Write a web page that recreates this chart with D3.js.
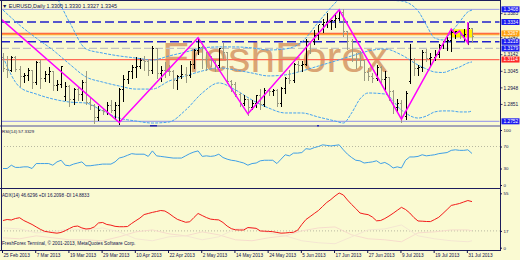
<!DOCTYPE html>
<html>
<head>
<meta charset="utf-8">
<script src="https://cdn.jsdelivr.net/npm/d3@7"></script>
<style>
  body { margin: 0; background: #fafad2; }
  svg { display: block; font-family: "Liberation Sans", Arial, sans-serif; }
</style>
</head>
<body>
<div id="chart"></div>
<script>
// EURUSD daily bars, 25 Feb 2013 .. 1 Aug 2013
var opens = [1.3130,1.3060,1.3055,1.3130,1.3060,1.3020,1.3025,1.3050,1.2985,1.3100,
  1.3005,1.3030,1.3045,1.2965,1.2970,1.2900,1.2960,1.2880,1.2940,1.2910,
  1.2985,1.2865,1.2850,1.2775,1.2820,1.2815,1.2845,1.2820,1.2850,1.2940,
  1.3000,1.3045,1.3070,1.3075,1.3110,1.3105,1.3050,1.3180,1.3035,1.3050,
  1.3048,1.3045,1.2995,1.3020,1.3030,1.3025,1.3090,1.3170,1.3190,1.3120,
  1.3115,1.3110,1.3080,1.3180,1.3160,1.2990,1.2970,1.2915,1.2860,1.2885,
  1.2835,1.2860,1.2905,1.2855,1.2935,1.2930,1.2935,1.2860,1.2945,1.3005,
  1.2995,1.3085,1.3080,1.3090,1.3225,1.3220,1.3260,1.3320,1.3335,1.3340,
  1.3345,1.3360,1.3395,1.3280,1.3220,1.3120,1.3115,1.3110,1.3040,1.3015,
  1.3005,1.3070,1.3000,1.3010,1.2930,1.2835,1.2860,1.2785,1.2990,1.3120,
  1.3065,1.3070,1.3160,1.3125,1.3130,1.3145,1.3200,1.3220,1.3230,1.3275,
  1.3280,1.3260,1.3265,1.3300];
var highs = [1.3160,1.3140,1.3140,1.3140,1.3080,1.3040,1.3070,1.3060,1.3110,1.3120,
  1.3050,1.3075,1.3055,1.3000,1.3080,1.2990,1.2970,1.2955,1.2960,1.3000,
  1.3050,1.2900,1.2860,1.2850,1.2830,1.2870,1.2885,1.2870,1.2955,1.3030,
  1.3055,1.3085,1.3135,1.3130,1.3140,1.3120,1.3200,1.3190,1.3080,1.3105,
  1.3090,1.3060,1.3030,1.3090,1.3075,1.3110,1.3180,1.3242,1.3200,1.3165,
  1.3140,1.3120,1.3190,1.3215,1.3165,1.3000,1.2990,1.2925,1.2915,1.2890,
  1.2880,1.2915,1.2950,1.2955,1.2955,1.2945,1.2950,1.2960,1.3020,1.3060,
  1.3100,1.3110,1.3110,1.3240,1.3230,1.3295,1.3325,1.3360,1.3390,1.3350,
  1.3390,1.3405,1.3416,1.3290,1.3240,1.3160,1.3170,1.3115,1.3070,1.3040,
  1.3090,1.3080,1.3050,1.3020,1.2940,1.2890,1.2880,1.2935,1.3208,1.3130,
  1.3090,1.3175,1.3180,1.3160,1.3175,1.3210,1.3230,1.3250,1.3295,1.3290,
  1.3285,1.3300,1.3335,1.3300];
var lows = [1.3050,1.3020,1.3050,1.3050,1.2965,1.2990,1.3000,1.2955,1.2975,1.2955,
  1.2995,1.2990,1.2940,1.2940,1.2960,1.2880,1.2845,1.2860,1.2880,1.2885,
  1.2860,1.2830,1.2750,1.2765,1.2800,1.2800,1.2810,1.2780,1.2745,1.2875,
  1.2985,1.3010,1.3020,1.3070,1.3060,1.3030,1.3040,1.3010,1.2995,1.3020,
  1.3030,1.2955,1.2950,1.3010,1.2990,1.3020,1.3070,1.3150,1.3070,1.3060,
  1.3080,1.3050,1.3075,1.3130,1.2985,1.2935,1.2905,1.2845,1.2855,1.2796,
  1.2830,1.2840,1.2830,1.2845,1.2910,1.2915,1.2850,1.2845,1.2925,1.2985,
  1.2990,1.3050,1.3050,1.3085,1.3160,1.3210,1.3240,1.3280,1.3310,1.3300,
  1.3310,1.3350,1.3260,1.3180,1.3110,1.3070,1.3080,1.3000,1.3000,1.2990,
  1.3000,1.2990,1.2945,1.2880,1.2805,1.2810,1.2755,1.2770,1.2980,1.3030,
  1.3030,1.3055,1.3110,1.3080,1.3120,1.3135,1.3185,1.3175,1.3170,1.3245,
  1.3245,1.3235,1.3211,1.3220];
var closes = [1.3065,1.3055,1.3130,1.3060,1.3020,1.3025,1.3050,1.2985,1.3100,1.3005,
  1.3030,1.3045,1.2965,1.2970,1.3075,1.2960,1.2880,1.2940,1.2910,1.2985,
  1.2865,1.2850,1.2775,1.2820,1.2815,1.2845,1.2820,1.2850,1.2940,1.3000,
  1.3045,1.3070,1.3075,1.3110,1.3105,1.3050,1.3180,1.3035,1.3050,1.3048,
  1.3045,1.2995,1.3020,1.3030,1.3025,1.3090,1.3170,1.3190,1.3120,1.3115,
  1.3110,1.3080,1.3180,1.3160,1.2990,1.2970,1.2915,1.2860,1.2885,1.2835,
  1.2860,1.2905,1.2855,1.2935,1.2930,1.2935,1.2860,1.2945,1.3005,1.2995,
  1.3085,1.3080,1.3090,1.3225,1.3220,1.3260,1.3320,1.3335,1.3340,1.3345,
  1.3360,1.3395,1.3280,1.3220,1.3120,1.3115,1.3110,1.3040,1.3015,1.3005,
  1.3070,1.3000,1.3010,1.2930,1.2835,1.2860,1.2785,1.2920,1.3120,1.3065,
  1.3070,1.3160,1.3125,1.3130,1.3145,1.3200,1.3220,1.3230,1.3275,1.3280,
  1.3260,1.3265,1.3300,1.3250];

// Bollinger bands (20), read at these bars
var bbIdx = [0,4,8,12,16,20,24,28,32,36,40,44,48,52,56,60,64,68,72,76,80,82,84,86,88,92,96,100,102,104,106,108,110,112,113];
var bbUpper = [1.3680,1.3680,1.3563,1.3510,1.3334,1.3176,1.3152,1.3135,1.3123,1.3111,1.3135,1.3158,1.3182,1.3188,1.3188,1.3182,1.3170,1.3176,1.3217,1.3334,1.3445,1.3492,1.3510,1.3504,1.3486,1.3463,1.3457,1.3399,1.3316,1.3240,1.3229,1.3276,1.3334,1.3393,1.3404];
var bbMiddle = [1.3404,1.3316,1.3240,1.3170,1.3088,1.3012,1.2982,1.2959,1.2941,1.2941,1.2988,1.3018,1.3047,1.3065,1.3053,1.3035,1.3018,1.3024,1.3047,1.3076,1.3105,1.3120,1.3135,1.3150,1.3164,1.3176,1.3141,1.3082,1.3059,1.3041,1.3038,1.3053,1.3070,1.3094,1.3100];
var bbLower = [1.3129,1.2953,1.2912,1.2883,1.2865,1.2859,1.2813,1.2771,1.2754,1.2742,1.2748,1.2818,1.2918,1.2977,1.2936,1.2877,1.2830,1.2801,1.2801,1.2777,1.2754,1.2742,1.2801,1.2883,1.2918,1.2912,1.2818,1.2771,1.2783,1.2807,1.2813,1.2813,1.2807,1.2807,1.2813];

// ZigZag turning points
var zzIdx = [-1, 28, 47, 59, 81, 96, 108, 109, 110, 112, 112];
var zzPrice = [1.3363, 1.2745, 1.3242, 1.2796, 1.3405, 1.2765, 1.3293, 1.3264, 1.3281, 1.3211, 1.3334];

// RSI(14)
var rsi = [30,30,36,32,32,33,33,30,39,39, 39,39,36,42,45,36,35,38,40,42,
  35,35,36,37,38,38,38,42,49,51, 54,57,56,56,56,52,62,53,52,51,
  50,49,49,49,53,57,60,62,52,53, 52,53,56,50,47,45,44,42,40,36,
  39,40,44,45,45,45,39,47,55,53, 58,58,59,66,65,68,70,73,72,71,
  72,73,64,56,50,45,44,40,41,42, 44,39,41,37,31,33,31,45,51,51,
  52,55,53,54,55,57,58,59,63,64, 63,63,64,57.3];

// ADX(14) with +DI / -DI
var adx = [27.5,28.5,28,29.5,30.3,27.5,25.5,23.5,21,18.6,
  16.6,15.9,15.2,14.7,15.4,17.2,19.4,21.4,21.9,20,
  18.9,19.3,21,25,25.5,23.5,22.8,21.6,21.2,21.2,
  21.4,24.5,27.3,30,33.5,34.6,35.7,36.6,37.6,37.1,
  34.6,31.5,28.7,27.2,25.7,26.2,30.5,34.6,32.5,30.5,
  28.9,28.4,28.1,25.5,21.9,19.3,18.1,17.9,17.9,20.4,
  20,19.6,16.9,16.7,16.5,16.2,15.4,14.7,14.9,15.3,
  15.6,17.7,23.5,28.5,31.5,34.6,37.6,41.7,45.7,48.7,
  52.3,55.3,53.3,48.2,43.7,39.6,35.1,34.1,33.4,31,
  27.2,27.5,29.5,32,34.8,37.8,40.8,38.6,35.1,30.5,
  27,26.8,26.5,26.4,28.5,30.8,34.6,38.6,42.7,43.7,
  44.7,46.2,47.7,46.6];
var diIdx = [0,4,8,12,16,20,24,28,32,36,40,44,48,52,56,60,64,68,72,76,80,84,88,92,96,100,104,108,112,113];
var diPlus = [10,9,12,10,8,8,7,11,16,18,14,12,16,13,8,7,10,12,17,20,21,13,9,8,6,15,16,18,18,17];
var diMinus = [20,19,15,16,19,18,20,16,9,7,11,12,8,11,19,20,15,12,7,5,4,11,18,19,23,12,9,7,6,7];

// date axis
var tickIdx = [0, 8, 16, 24, 32, 40, 48, 56, 64, 72, 80, 88, 96, 104, 112];
var tickLabels = ["25 Feb 2013", "7 Mar 2013", "19 Mar 2013", "29 Mar 2013", "10 Apr 2013", "22 Apr 2013",
  "2 May 2013", "14 May 2013", "24 May 2013", "5 Jun 2013", "17 Jun 2013", "27 Jun 2013",
  "9 Jul 2013", "19 Jul 2013", "31 Jul 2013"];

// horizontal levels and price labels
var levelPrices = [1.3408, 1.3334, 1.3267, 1.3261, 1.3242, 1.3218, 1.3179, 1.3114, 1.2752];
var boxPrices = [1.3408, 1.3334, 1.3267, 1.3218, 1.3179, 1.3114, 1.2752];
var gridPrices = [1.3383, 1.3242, 1.3142, 1.3045, 1.2948, 1.2851];
var zoneFrom = 108, zoneTo = 113, zoneTop = 1.3291, zoneBottom = 1.3244;

var navy = "#10104a";

var svg = d3.select("#chart")
    .append("svg")
    .attr("width", 520)
    .attr("height", 260);

svg.append("rect").attr("width", 520).attr("height", 260).attr("fill", "#fafad2");

// scales
var x = d3.scaleLinear().domain([0, 113]).range([3, 472]);
var y = d3.scaleLinear().domain([1.27, 1.34]).range([130.2, 10.73]);
var yR = d3.scaleLinear().domain([0, 100]).range([185, 130]);
var yA = d3.scaleLinear().domain([0, 55]).range([247.7, 193.3]);
var px = function (i) { return Math.round(x(i)) + 0.5; };
var py = function (v) { return Math.round(y(v)) + 0.5; };

// clip areas for the three windows
var defs = svg.append("defs");
defs.append("clipPath").attr("id", "cMain").append("rect").attr("x", 1.5).attr("y", 1).attr("width", 498).attr("height", 124);
defs.append("clipPath").attr("id", "cRsi").append("rect").attr("x", 1.5).attr("y", 127).attr("width", 498).attr("height", 60.5);
defs.append("clipPath").attr("id", "cAdx").append("rect").attr("x", 1.5).attr("y", 189).attr("width", 498).attr("height", 61);

var gMain = svg.append("g").attr("clip-path", "url(#cMain)");

// watermark
gMain.append("text")
    .attr("x", 162).attr("y", 72)
    .attr("textLength", 226).attr("lengthAdjust", "spacingAndGlyphs")
    .style("font-size", "42px")
    .attr("fill", "#daa574")
    .text("FreshForex");

// levels
var levelStyle = [
    { c: "#9a9ae6", w: 1, d: null },
    { c: "#2020cc", w: 1.4, d: "9,4" },
    { c: "#ff5a44", w: 1.2, d: null },
    { c: "#ffa238", w: 1.4, d: null },
    { c: "#cacad6", w: 1, d: null },
    { c: "#2020cc", w: 1.4, d: "9,4" },
    { c: "#c2c2c2", w: 1.2, d: "8,3" },
    { c: "#ff6a55", w: 1.2, d: null },
    { c: "#a4a4e8", w: 1.3, d: null }
];
gMain.selectAll("levels")
    .data(levelPrices)
    .enter()
    .append("line")
    .attr("x1", 1).attr("x2", 500)
    .attr("y1", function (d) { return y(d); })
    .attr("y2", function (d) { return y(d); })
    .attr("stroke", function (d, i) { return levelStyle[i].c; })
    .attr("stroke-width", function (d, i) { return levelStyle[i].w; })
    .attr("stroke-dasharray", function (d, i) { return levelStyle[i].d; });

// yellow zone
gMain.append("rect")
    .attr("x", x(zoneFrom)).attr("y", y(zoneTop))
    .attr("width", x(zoneTo) - x(zoneFrom)).attr("height", y(zoneBottom) - y(zoneTop))
    .attr("fill", "#fff200");

// bollinger bands
var bbLine = function (vals) {
    return d3.line()
        .x(function (d, k) { return x(bbIdx[k]); })
        .y(function (d) { return y(d); })
        .curve(d3.curveMonotoneX)(vals);
};
[bbUpper, bbMiddle, bbLower].forEach(function (band) {
    gMain.append("path")
        .attr("d", bbLine(band))
        .attr("fill", "none")
        .attr("stroke", "#45a2f0")
        .attr("stroke-width", 1)
        .attr("stroke-dasharray", "3,1.2");
});

// bars
var bars = gMain.selectAll("mybar")
    .data(d3.range(opens.length))
    .enter()
    .append("g")
    .attr("stroke", function (i) { return closes[i] >= opens[i] ? "#000000" : "#9a9a82"; })
    .attr("stroke-width", 1)
    .attr("shape-rendering", "crispEdges");
bars.append("line")
    .attr("x1", px).attr("x2", px)
    .attr("y1", function (i) { return py(highs[i]); })
    .attr("y2", function (i) { return py(lows[i]) + 1; });
bars.append("line")
    .attr("x1", function (i) { return px(i) - 1.5; }).attr("x2", px)
    .attr("y1", function (i) { return py(opens[i]); })
    .attr("y2", function (i) { return py(opens[i]); });
bars.append("line")
    .attr("x1", px).attr("x2", function (i) { return px(i) + 1.5; })
    .attr("y1", function (i) { return py(closes[i]); })
    .attr("y2", function (i) { return py(closes[i]); });

// zigzag
gMain.append("path")
    .attr("d", d3.line()
        .x(function (d, k) { return x(zzIdx[k]); })
        .y(function (d) { return y(d); })(zzPrice))
    .attr("fill", "none")
    .attr("stroke", "#ff00ff")
    .attr("stroke-width", 1.5);

// title
svg.append("text")
    .attr("x", 2).attr("y", 7.5)
    .style("font-size", "5.4px")
    .attr("fill", navy)
    .text("\u25BC EURUSD,Daily 1.3300 1.3330 1.3327 1.3345");

// RSI window
var gRsi = svg.append("g").attr("clip-path", "url(#cRsi)");
gRsi.append("line")
    .attr("x1", 1).attr("x2", 500)
    .attr("y1", yR(70)).attr("y2", yR(70))
    .attr("stroke", "#b8b8a0").attr("stroke-dasharray", "1,2");
gRsi.append("path")
    .attr("d", d3.line()
        .x(function (d, i) { return x(i); })
        .y(function (d) { return yR(d); })(rsi))
    .attr("fill", "none")
    .attr("stroke", "#3f9fe6")
    .attr("stroke-width", 1);
svg.append("text")
    .attr("x", 2).attr("y", 133)
    .style("font-size", "4.4px")
    .attr("fill", navy)
    .text("RSI(14) 57.3329");

// ADX window
var gAdx = svg.append("g").attr("clip-path", "url(#cAdx)");
gAdx.append("line")
    .attr("x1", 1).attr("x2", 500)
    .attr("y1", yA(17)).attr("y2", yA(17))
    .attr("stroke", "#b8b8a0").attr("stroke-dasharray", "1,2");
var diLine = d3.line()
    .x(function (d, k) { return x(diIdx[k]); })
    .y(function (d) { return yA(d); });
gAdx.append("path").attr("d", diLine(diPlus))
    .attr("fill", "none").attr("stroke", "#f6dccc").attr("stroke-width", 1);
gAdx.append("path").attr("d", diLine(diMinus))
    .attr("fill", "none").attr("stroke", "#f4e6d2").attr("stroke-width", 1);
gAdx.append("path")
    .attr("d", d3.line()
        .x(function (d, i) { return x(i); })
        .y(function (d) { return yA(d); })(adx))
    .attr("fill", "none")
    .attr("stroke", "#f21a1a")
    .attr("stroke-width", 1);
svg.append("text")
    .attr("x", 2).attr("y", 196.5)
    .style("font-size", "4.6px")
    .attr("fill", navy)
    .text("ADX(14) 46.6296 +DI 16.2098 -DI 14.8833");
svg.append("text")
    .attr("x", 2).attr("y", 245)
    .style("font-size", "4.7px")
    .attr("fill", navy)
    .text("FreshForex Terminal, \u00A9 2001-2013, MetaQuotes Software Corp.");

// frames and separators
svg.append("rect").attr("x", 0).attr("y", 125).attr("width", 500).attr("height", 2).attr("fill", "#a4a4b6");
svg.append("rect").attr("x", 150).attr("y", 125).attr("width", 7).attr("height", 1.5).attr("fill", "#2a2ab0");
svg.append("rect").attr("x", 317).attr("y", 125).attr("width", 2).attr("height", 1.5).attr("fill", "#2a2ab0");
var frame = svg.append("g").attr("stroke", "#1c1c5c").attr("stroke-width", 1).attr("shape-rendering", "crispEdges");
frame.append("line").attr("x1", 0).attr("x2", 500).attr("y1", 0.5).attr("y2", 0.5);
frame.append("line").attr("x1", 1.5).attr("x2", 1.5).attr("y1", 0).attr("y2", 250);
frame.append("line").attr("x1", 500.5).attr("x2", 500.5).attr("y1", 0).attr("y2", 251);
frame.append("line").attr("x1", 0).attr("x2", 501).attr("y1", 188.5).attr("y2", 188.5);
frame.append("line").attr("x1", 0).attr("x2", 501).attr("y1", 250.5).attr("y2", 250.5);

// price scale: grid labels then coloured boxes
var priceAxis = svg.append("g").style("font-size", "4.8px");
priceAxis.selectAll("grid")
    .data(gridPrices)
    .enter()
    .append("text")
    .attr("x", 503.5)
    .attr("y", function (d) { return y(d) + 1.7; })
    .attr("fill", navy)
    .text(function (d) { return d.toFixed(4); });
priceAxis.selectAll("gridtick")
    .data(gridPrices)
    .enter()
    .append("line")
    .attr("x1", 500).attr("x2", 502.5)
    .attr("y1", function (d) { return y(d); })
    .attr("y2", function (d) { return y(d); })
    .attr("stroke", navy).attr("stroke-width", 0.8);
var boxFill = function (d) {
    if (d === 1.3267) return "#ffa010";
    if (d === 1.3114) return "#ff2a2a";
    return "#1a1af0";
};
priceAxis.selectAll("box")
    .data(boxPrices)
    .enter()
    .append("rect")
    .attr("x", 501.5)
    .attr("y", function (d) { return y(d) - 3; })
    .attr("width", 18)
    .attr("height", 6)
    .attr("fill", boxFill);
priceAxis.selectAll("boxtext")
    .data(boxPrices)
    .enter()
    .append("text")
    .attr("x", 503.5)
    .attr("y", function (d) { return y(d) + 1.7; })
    .attr("fill", "#ffffff")
    .text(function (d) { return d.toFixed(4); });

// RSI and ADX scales on the right
var styleAxis = function (g) {
    g.select(".domain").remove();
    g.selectAll("line").attr("stroke", navy);
    g.selectAll("text").attr("x", 3.5).attr("fill", navy).style("font-size", "4.4px")
        .style("font-family", "Liberation Sans, Arial, sans-serif");
};
svg.append("g")
    .attr("transform", "translate(500,0)")
    .call(d3.axisRight(yR).tickValues([100, 70, 30, 0]).tickSize(2))
    .call(styleAxis);
svg.append("g")
    .attr("transform", "translate(500,0)")
    .call(d3.axisRight(yA).tickValues([55, 17, 0]).tickSize(2))
    .call(styleAxis);

// date axis
var xAxis = svg.append("g")
    .attr("transform", "translate(0,250)")
    .call(d3.axisBottom(x)
        .tickValues(tickIdx)
        .tickFormat(function (d, i) { return tickLabels[i]; })
        .tickSize(3));
xAxis.select(".domain").remove();
xAxis.selectAll("line").attr("stroke", navy).attr("transform", "translate(-1,0)");
xAxis.selectAll("text")
    .attr("text-anchor", "start")
    .attr("x", 0)
    .attr("y", 3.3)
    .attr("fill", navy)
    .style("font-size", "4.7px")
    .style("font-family", "Liberation Sans, Arial, sans-serif");
</script>
</body>
</html>
